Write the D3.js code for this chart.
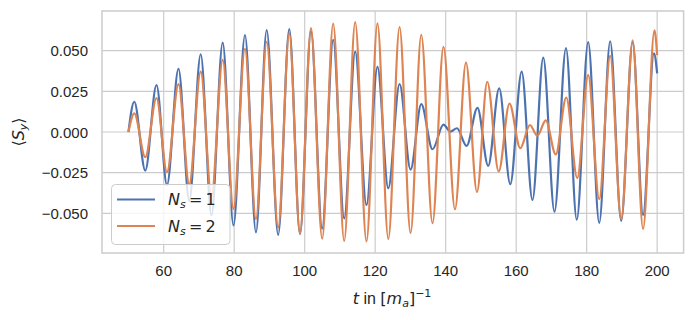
<!DOCTYPE html>
<html lang="en">
<head>
<meta charset="utf-8" />
<style>
    body { margin: 0; background: #fff; }
    .grid line { stroke: #cccccc; stroke-width: 1.2px; }
    .frame { fill: none; stroke: #cccccc; stroke-width: 1.5px; }
    .ticklabel { font-family: "Liberation Sans", Arial, sans-serif; font-size: 15px; fill: #262626; }
    .label { font-family: "Liberation Sans", Arial, sans-serif; font-size: 16px; fill: #262626; }
    .math { font-family: "DejaVu Sans", sans-serif; }
    .series { fill: none; stroke-width: 2.2px; stroke-linejoin: round; }
</style>
</head>
<body>
<svg width="694" height="320"></svg>
<script src="https://cdn.jsdelivr.net/npm/d3@7/dist/d3.min.js"></script>
<script>

    // extrema, N_s = 1
    var tOne = [50, 51.66, 54.78, 57.96, 60.94, 64.2, 67.26, 70.5, 73.56, 76.74, 79.8, 83.06, 86.18,
        89.22, 92.48, 95.63, 98.67, 101.79, 104.96, 108.09, 111.21, 114.33, 117.53, 120.65, 123.72,
        126.92, 130.04, 133.08, 136.26, 139.38, 141.36, 143.2, 145.93, 149.02, 152.06, 155.18, 158.33,
        161.56, 164.62, 167.69, 170.87, 174.13, 177.19, 180.43, 183.57, 186.67, 189.79, 193.05, 196.0,
        199.09, 200];
    var sOne = [0, 0.0186, -0.0237, 0.0289, -0.0326, 0.0389, -0.0424, 0.0478, -0.0512, 0.055, -0.0574,
        0.0596, -0.0617, 0.0627, -0.0633, 0.0632, -0.0627, 0.0621, -0.0594, 0.0566, -0.0531, 0.0494,
        -0.0449, 0.0401, -0.0346, 0.0295, -0.0231, 0.0171, -0.0106, 0.0045, 0.0002, 0.0023, -0.0085,
        0.0148, -0.0209, 0.0269, -0.0321, 0.0371, -0.0418, 0.0457, -0.049, 0.0516, -0.0539, 0.0553,
        -0.0559, 0.0558, -0.0546, 0.0552, -0.051, 0.0484, 0.0361];

    // N_s = 2
    var tTwo = [50, 51.66, 54.78, 57.96, 60.94, 64.2, 67.26, 70.5, 73.56, 76.74, 79.8, 83.06, 86.18,
        89.22, 92.48, 95.63, 98.67, 101.79, 104.96, 108.09, 111.21, 114.33, 117.53, 120.65, 123.72,
        126.92, 130.04, 133.08, 136.26, 139.38, 142.64, 145.76, 148.88, 151.8, 155.04, 158.1, 161.16,
        163.91, 165.99, 168.4, 171.23, 174.21, 177.33, 180.43, 183.57, 186.67, 189.79, 193.05, 196.0,
        199.23, 200];
    var sTwo = [0, 0.0115, -0.0155, 0.0209, -0.0247, 0.0294, -0.0321, 0.0371, -0.0392, 0.0444, -0.0473,
        0.0511, -0.0535, 0.0555, -0.0587, 0.0607, -0.0624, 0.0639, -0.0656, 0.0666, -0.067, 0.0675,
        -0.0673, 0.0668, -0.0658, 0.0645, -0.0621, 0.0598, -0.0561, 0.0524, -0.0476, 0.0427, -0.0369,
        0.0309, -0.0242, 0.0174, -0.01, 0.0043, -0.0023, 0.0071, -0.0138, 0.0212, -0.0283, 0.035,
        -0.0413, 0.0468, -0.0535, 0.0563, -0.0596, 0.0625, 0.0473];

    var xTicks = [60, 80, 100, 120, 140, 160, 180, 200];
    var yTicks = [-0.05, -0.025, 0, 0.025, 0.05];
    var seriesN = ["1", "2"];
    var colors = ["#4c72b0", "#dd8452"];

    var svg = d3.select("svg");

    var x = d3.scaleLinear().domain([42.5, 207.5]).range([102, 683.6]),
        y = d3.scaleLinear().domain([-0.0744, 0.0744]).range([253, 11]);

    var fmt = d3.format(".3f");

    // grid
    var grid = svg.append("g").attr("class", "grid");
    grid.selectAll(".gx").data(xTicks).enter().append("line")
        .attr("x1", x).attr("x2", x)
        .attr("y1", y.range()[0]).attr("y2", y.range()[1]);
    grid.selectAll(".gy").data(yTicks).enter().append("line")
        .attr("x1", x.range()[0]).attr("x2", x.range()[1])
        .attr("y1", y).attr("y2", y);

    // tick labels
    svg.selectAll(".xt").data(xTicks).enter().append("text")
        .attr("class", "ticklabel")
        .attr("x", x).attr("y", 276)
        .attr("text-anchor", "middle")
        .text(function(d) { return d; });

    svg.selectAll(".yt").data(yTicks).enter().append("text")
        .attr("class", "ticklabel")
        .attr("x", 88).attr("y", function(d) { return y(d) + 5.5; })
        .attr("text-anchor", "end")
        .text(fmt);

    var line = d3.line()
        .x(function(d) { return x(d[0]); })
        .y(function(d) { return y(d[1]); })
        .curve(d3.curveMonotoneX);

    var series = [d3.zip(tOne, sOne), d3.zip(tTwo, sTwo)];

    svg.selectAll(".series").data(series).enter().append("path")
        .attr("class", "series")
        .attr("stroke", function(d, i) { return colors[i]; })
        .attr("d", line);

    svg.append("rect").attr("class", "frame")
        .attr("x", x.range()[0]).attr("y", y.range()[1])
        .attr("width", x.range()[1] - x.range()[0])
        .attr("height", y.range()[0] - y.range()[1]);

    // axis labels
    var xl = svg.append("text").attr("class", "label")
        .attr("x", 392).attr("y", 304).attr("text-anchor", "middle");
    xl.append("tspan").attr("class", "math").attr("font-style", "italic").text("t");
    xl.append("tspan").text(" in ");
    xl.append("tspan").attr("class", "math").text("[");
    xl.append("tspan").attr("class", "math").attr("font-style", "italic").text("m");
    xl.append("tspan").attr("class", "math").attr("font-style", "italic")
        .attr("font-size", "11px").attr("dy", 3).text("a");
    xl.append("tspan").attr("class", "math").attr("dy", -3).text("]");
    xl.append("tspan").attr("class", "math").attr("font-size", "11px").attr("dy", -7).text("\u22121");

    var yl = svg.append("text").attr("class", "label math")
        .attr("transform", "translate(24,132) rotate(-90)")
        .attr("text-anchor", "middle");
    yl.append("tspan").text("\u27e8");
    yl.append("tspan").attr("font-style", "italic").text("S");
    yl.append("tspan").attr("font-style", "italic").attr("font-size", "11px").attr("dy", 3).text("y");
    yl.append("tspan").attr("dy", -3).text("\u27e9");

    // legend
    var legend = svg.append("g");
    legend.append("rect")
        .attr("x", 111.5).attr("y", 184.5).attr("width", 118.5).attr("height", 60)
        .attr("rx", 4)
        .attr("fill", "#fff").attr("fill-opacity", 0.8)
        .attr("stroke", "#cccccc").attr("stroke-width", 1);

    var items = legend.selectAll(".item").data(seriesN).enter().append("g")
        .attr("transform", function(d, i) { return "translate(0," + (199.5 + i * 26.5) + ")"; });
    items.append("line")
        .attr("x1", 117).attr("x2", 155)
        .attr("stroke", function(d, i) { return colors[i]; })
        .attr("stroke-width", 2.2);
    var lt = items.append("text").attr("class", "label math")
        .attr("x", 168).attr("y", 5.5).attr("font-size", "15px");
    lt.append("tspan").attr("font-style", "italic").text("N");
    lt.append("tspan").attr("font-style", "italic").attr("font-size", "11px").attr("dy", 3).text("s");
    lt.append("tspan").attr("dy", -3).text(function(d) { return "\u2009=\u2009" + d; });

</script>
</body>
</html>
